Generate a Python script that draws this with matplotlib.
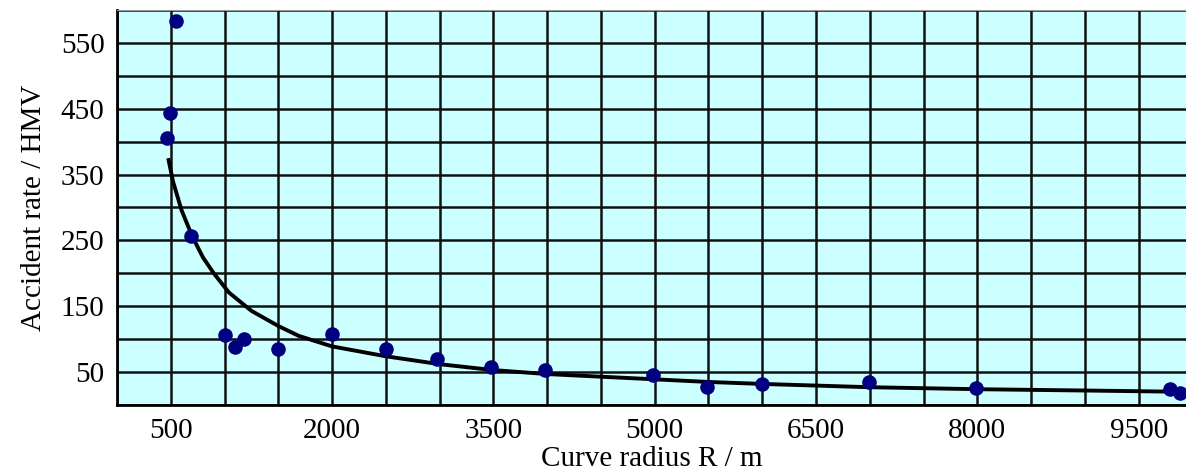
import numpy as np
import matplotlib.pyplot as plt
from matplotlib.ticker import MultipleLocator, FixedLocator

# measured points (curve radius in m, accident rate)
radius = [465, 490, 547, 686, 1003, 1096, 1180, 1496, 2000, 2500, 2976, 3478,
          3981, 4986, 5489, 6001, 6997, 7983, 9789, 9882]
rate = [405, 444, 583, 256, 107, 88, 101, 85, 108, 85, 70, 57,
        53, 45, 27, 32, 35, 26, 24, 18]

# fitted curve
fit_r = [480, 520, 600, 700, 800, 900, 1040, 1250, 1500, 1690, 2000, 2500,
         3000, 3500, 4000, 4500, 5000, 5500, 6000, 7000, 8000, 9000, 9950]
fit_v = [372, 340, 296, 256, 224, 200, 171, 143, 120, 105, 89, 74,
         62, 53, 47, 43, 39, 35, 32, 27, 24, 22, 20]

xticks = [500, 2000, 3500, 5000, 6500, 8000, 9500]
yticks = [50, 150, 250, 350, 450, 550]

plt.rcParams['font.family'] = ['Liberation Serif', 'DejaVu Serif']

fig = plt.figure(figsize=(11.86, 4.73), dpi=100)
ax = fig.add_axes([117/1186, 1-405/473, 1-117/1186, 395/473])
ax.set_facecolor('#ccffff')

ax.set_xlim(0, 9940)
ax.set_ylim(0, 600)
ax.xaxis.set_major_locator(FixedLocator(xticks))
ax.yaxis.set_major_locator(FixedLocator(yticks))
ax.xaxis.set_minor_locator(MultipleLocator(500))
ax.yaxis.set_minor_locator(MultipleLocator(50))
ax.grid(which='both', color='#111111', linewidth=1.8, zorder=1)
ax.set_axisbelow(True)
ax.tick_params(which='both', length=0, labelsize=21, pad=9)

ax.plot(fit_r, fit_v, color='black', linewidth=2.8, zorder=3)
ax.scatter(radius, rate, s=110, color='#000080', zorder=4, linewidths=0)

ax.spines['right'].set_visible(False)
ax.spines['top'].set_color('#999999')
ax.spines['left'].set_linewidth(2)
ax.spines['bottom'].set_linewidth(2)

ax.set_xlabel('Curve radius R / m', fontsize=21, labelpad=2)
ax.set_ylabel('Accident rate / HMV', fontsize=21, labelpad=10)

fig.savefig('out.png', dpi=100)
